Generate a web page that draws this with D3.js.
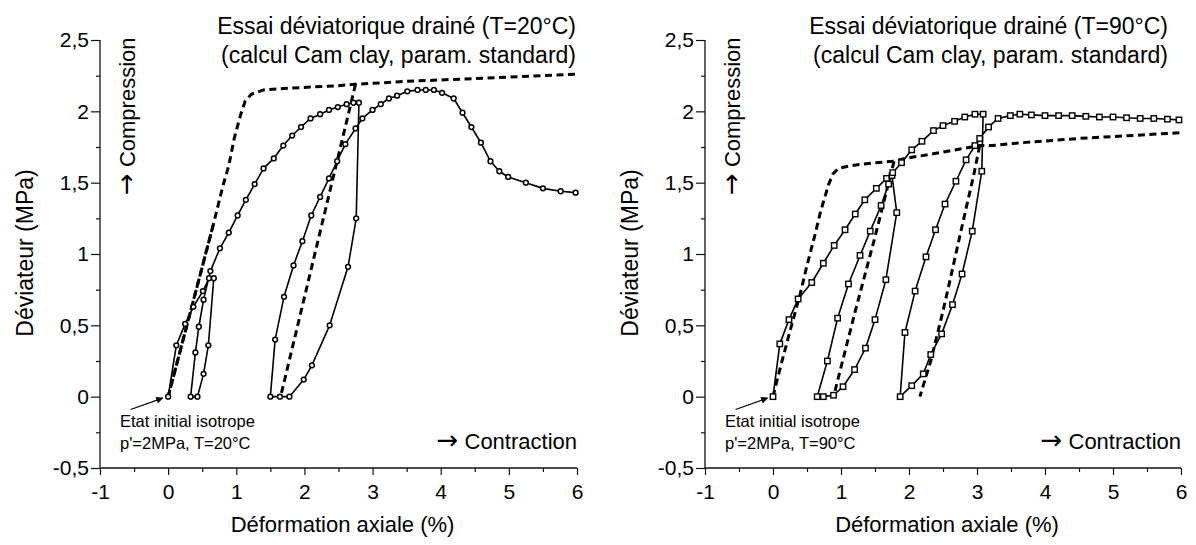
<!DOCTYPE html>
<html><head><meta charset="utf-8">
<script src="https://cdn.jsdelivr.net/npm/d3@7"></script>
<style>
html,body{margin:0;padding:0;background:#fff;}
svg{display:block;font-family:"Liberation Sans",Arial,Helvetica,sans-serif;}
</style></head>
<body>
<svg id="chart" width="1196" height="545"></svg>
<script>
// ---------- DATA ----------
const xTicks = [-1, 0, 1, 2, 3, 4, 5, 6];
const xTickLabels = ["-1", "0", "1", "2", "3", "4", "5", "6"];
const xMinorTicks = [-0.5, 0.5, 1.5, 2.5, 3.5, 4.5, 5.5];
const yTicks = [-0.5, 0, 0.5, 1, 1.5, 2, 2.5];
const yTickLabels = ["-0,5", "0", "0,5", "1", "1,5", "2", "2,5"];
const yMinorTicks = [-0.25, 0.25, 0.75, 1.25, 1.75, 2.25];

const titles20 = ["Essai déviatorique drainé (T=20°C)", "(calcul Cam clay, param. standard)"];
const titles90 = ["Essai déviatorique drainé (T=90°C)", "(calcul Cam clay, param. standard)"];
const note20 = ["Etat initial isotrope", "p'=2MPa, T=20°C"];
const note90 = ["Etat initial isotrope", "p'=2MPa, T=90°C"];
const xLabel = "Déformation axiale (%)";
const yLabel = "Déviateur (MPa)";
const arrowGlyph = "→";
const compLabel = "Compression";
const contLabel = "Contraction";

// T=20°C : solid curve with circle markers [strain %, deviator MPa]
const solid20 = [
  [0,0],[0.12,0.36],[0.25,0.51],[0.37,0.63],[0.51,0.74],[0.60,0.83],[0.67,0.83],
  [0.59,0.36],[0.52,0.16],[0.43,0],[0.33,0],[0.40,0.31],[0.45,0.49],[0.52,0.68],
  [0.62,0.88],[0.76,1.04],[0.89,1.15],[1.02,1.27],[1.14,1.38],[1.27,1.49],[1.40,1.60],
  [1.55,1.67],[1.69,1.76],[1.82,1.83],[1.95,1.89],[2.09,1.95],[2.23,1.98],[2.36,2.01],
  [2.49,2.03],[2.62,2.05],[2.72,2.06],[2.80,2.06],
  [2.76,1.25],[2.64,0.91],[2.37,0.50],[2.11,0.22],[1.99,0.12],[1.78,0],[1.64,0],[1.50,0],
  [1.57,0.40],[1.70,0.70],[1.84,0.92],[1.97,1.09],[2.10,1.27],[2.23,1.40],[2.36,1.53],
  [2.48,1.65],[2.60,1.77],[2.75,1.88],[2.85,1.95],[3.00,2.01],[3.12,2.05],[3.24,2.09],
  [3.36,2.11],[3.51,2.14],[3.66,2.15],[3.78,2.15],[3.90,2.15],[4.02,2.13],[4.19,2.09],
  [4.32,1.99],[4.45,1.89],[4.59,1.78],[4.73,1.65],[4.86,1.58],[4.99,1.54],[5.25,1.50],
  [5.50,1.46],[5.76,1.44],[5.98,1.43]
];
// T=20°C : Cam clay (dashed) monotonic path and unload legs
const cam20 = [
  [0,0],[0.33,0.60],[0.66,1.20],[0.80,1.47],[0.89,1.62],[0.97,1.81],[1.06,1.97],[1.13,2.07],
  [1.22,2.12],[1.40,2.15],[1.70,2.16],[2.10,2.17],[2.50,2.18],[2.75,2.19],[3.50,2.21],
  [4.50,2.23],[6.00,2.26]
];
const cam20Unload = [
  [[0.66,1.20],[0.33,0.60],[0,0]],
  [[2.75,2.19],[1.65,0]]
];

// T=90°C : solid curve with square markers
const solid90 = [
  [0,0],[0.10,0.37],[0.235,0.54],[0.37,0.685],[0.57,0.80],[0.74,0.935],[0.90,1.06],
  [1.06,1.17],[1.21,1.28],[1.35,1.38],[1.52,1.46],[1.67,1.53],[1.75,1.55],
  [1.82,1.29],[1.66,0.82],[1.50,0.54],[1.36,0.34],[1.20,0.19],[1.03,0.07],[0.89,0.01],
  [0.74,0],[0.65,0],
  [0.80,0.25],[0.95,0.55],[1.11,0.79],[1.28,0.99],[1.43,1.16],[1.59,1.34],[1.70,1.49],
  [1.76,1.57],[1.89,1.64],[2.04,1.73],[2.19,1.79],[2.36,1.865],[2.50,1.90],[2.67,1.93],
  [2.82,1.96],[2.97,1.98],[3.09,1.98],
  [3.07,1.58],[2.93,1.16],[2.78,0.86],[2.64,0.645],[2.48,0.44],[2.32,0.295],[2.21,0.16],
  [2.04,0.077],[1.87,0],
  [1.94,0.45],[2.09,0.74],[2.25,0.98],[2.39,1.17],[2.53,1.35],[2.69,1.51],[2.84,1.66],
  [2.97,1.76],[3.04,1.81],[3.17,1.89],[3.31,1.95],[3.49,1.97],[3.63,1.98],[3.80,1.975],
  [4.00,1.97],[4.20,1.97],[4.40,1.97],[4.60,1.965],[4.80,1.96],[5.00,1.96],[5.20,1.955],
  [5.40,1.95],[5.60,1.95],[5.80,1.945],[5.97,1.94]
];
const cam90 = [
  [0,0],[0.10,0.19],[0.25,0.46],[0.40,0.72],[0.50,0.92],[0.62,1.14],[0.69,1.28],[0.75,1.38],
  [0.82,1.49],[0.88,1.56],[0.96,1.60],[1.16,1.62],[1.50,1.64],[1.78,1.65],[1.94,1.67],
  [2.33,1.70],[2.63,1.725],[3.04,1.76],[3.22,1.76],[3.66,1.78],[4.50,1.81],[6.00,1.85]
];
const cam90Unload = [
  [[1.78,1.65],[1.50,1.12],[1.21,0.60],[0.89,0]],
  [[3.04,1.76],[2.95,1.55],[2.82,1.28],[2.60,0.81],[2.50,0.60],[2.32,0.25],[2.16,0]]
];
const arrowPts = [[-0.55,-0.09],[-0.08,-0.01]];

// ---------- DRAW ----------
const svg = d3.select("#chart");
const FONT = '"Liberation Sans",Arial,Helvetica,sans-serif';
const ARROWFONT = '"DejaVu Sans",sans-serif';

svg.append("defs").append("marker")
  .attr("id","ah").attr("viewBox","0 0 10 10").attr("refX",9).attr("refY",5)
  .attr("markerWidth",9).attr("markerHeight",7).attr("markerUnits","userSpaceOnUse")
  .attr("orient","auto")
  .append("path").attr("d","M0,0 L10,5 L0,10 z").attr("fill","#000");

const panels = [
  {x0:100, x1:577, titles:titles20, note:note20, solid:solid20, cam:cam20, unload:cam20Unload, marker:"circle", titleEnd:576},
  {x0:705, x1:1181, titles:titles90, note:note90, solid:solid90, cam:cam90, unload:cam90Unload, marker:"square", titleEnd:1168}
];

function arrowText(sel, label) {
  sel.append("tspan").attr("font-family",ARROWFONT).attr("font-size",26).text(arrowGlyph);
  sel.append("tspan").text(" " + label);
}

panels.forEach(p => {
  const x = d3.scaleLinear().domain([-1,6]).range([p.x0,p.x1]);
  const y = d3.scaleLinear().domain([-0.5,2.5]).range([468,40]);
  const g = svg.append("g");

  // axes
  const xa = g.append("g").attr("transform","translate(0,468)")
    .call(d3.axisBottom(x).tickValues(xTicks).tickSize(7).tickPadding(9)
      .tickFormat((d,i)=>xTickLabels[i]));
  const xm = g.append("g").attr("transform","translate(0,468)")
    .call(d3.axisBottom(x).tickValues(xMinorTicks).tickSize(4).tickFormat(""));
  const ya = g.append("g").attr("transform",`translate(${p.x0},0)`)
    .call(d3.axisLeft(y).tickValues(yTicks).tickSize(9).tickPadding(2)
      .tickFormat((d,i)=>yTickLabels[i]));
  const ym = g.append("g").attr("transform",`translate(${p.x0},0)`)
    .call(d3.axisLeft(y).tickValues(yMinorTicks).tickSize(4).tickFormat(""));
  [xa,xm,ya,ym].forEach(a=>{
    a.selectAll("path.domain").attr("stroke","#111").attr("stroke-width",1.3);
    a.selectAll(".tick line").attr("stroke","#111").attr("stroke-width",1.2);
    a.selectAll("text").attr("font-family",FONT).attr("font-size",21).attr("fill","#000");
  });
  xm.select("path.domain").remove(); ym.select("path.domain").remove();
  xa.select("path.domain").attr("d",`M${p.x0},0H${p.x1}`);
  ya.select("path.domain").attr("d",`M0,${y(2.5)}V${y(-0.5)}`);

  const line = d3.line().x(d=>x(d[0])).y(d=>y(d[1]));

  // Cam clay dashed
  g.append("path").datum(p.cam).attr("d",line).attr("fill","none")
    .attr("stroke","#000").attr("stroke-width",3).attr("stroke-dasharray","7,4.5");
  p.unload.forEach(seg=>{
    g.append("path").datum(seg).attr("d",line).attr("fill","none")
      .attr("stroke","#000").attr("stroke-width",3).attr("stroke-dasharray","7,4.5");
  });

  // solid curve
  g.append("path").datum(p.solid).attr("d",line).attr("fill","none")
    .attr("stroke","#000").attr("stroke-width",1.6).attr("stroke-linejoin","round");
  if (p.marker==="circle") {
    g.selectAll("circle.m").data(p.solid).join("circle").attr("class","m")
      .attr("cx",d=>x(d[0])).attr("cy",d=>y(d[1])).attr("r",2.4)
      .attr("fill","#fff").attr("stroke","#000").attr("stroke-width",1.5);
  } else {
    g.selectAll("rect.m").data(p.solid).join("rect").attr("class","m")
      .attr("x",d=>x(d[0])-2.7).attr("y",d=>y(d[1])-2.7).attr("width",5.4).attr("height",5.4)
      .attr("fill","#fff").attr("stroke","#000").attr("stroke-width",1.4);
  }

  // arrow to initial state
  g.append("line").attr("x1",x(arrowPts[0][0])).attr("y1",y(arrowPts[0][1]))
    .attr("x2",x(arrowPts[1][0])).attr("y2",y(arrowPts[1][1]))
    .attr("stroke","#000").attr("stroke-width",1.3).attr("marker-end","url(#ah)");

  // texts
  g.append("text").attr("x",p.titleEnd).attr("y",34).attr("text-anchor","end")
    .attr("font-size",23).text(p.titles[0]);
  g.append("text").attr("x",p.titleEnd).attr("y",63).attr("text-anchor","end")
    .attr("font-size",23).text(p.titles[1]);
  g.append("text").attr("transform",`translate(${p.x0+35},195) rotate(-90)`)
    .attr("font-size",22).call(arrowText, compLabel);
  g.append("text").attr("transform",`translate(${p.x0-67},253) rotate(-90)`)
    .attr("text-anchor","middle").attr("font-size",23).text(yLabel);
  g.append("text").attr("x",p.x1).attr("y",449).attr("text-anchor","end")
    .attr("font-size",22).call(arrowText, contLabel);
  g.append("text").attr("x",p.x0+20).attr("y",427).attr("font-size",16.5).text(p.note[0]);
  g.append("text").attr("x",p.x0+20).attr("y",449).attr("font-size",16.5).text(p.note[1]);
  g.append("text").attr("x",x(2.5)+4).attr("y",532).attr("text-anchor","middle")
    .attr("font-size",22).text(xLabel);
});
</script>
</body></html>
